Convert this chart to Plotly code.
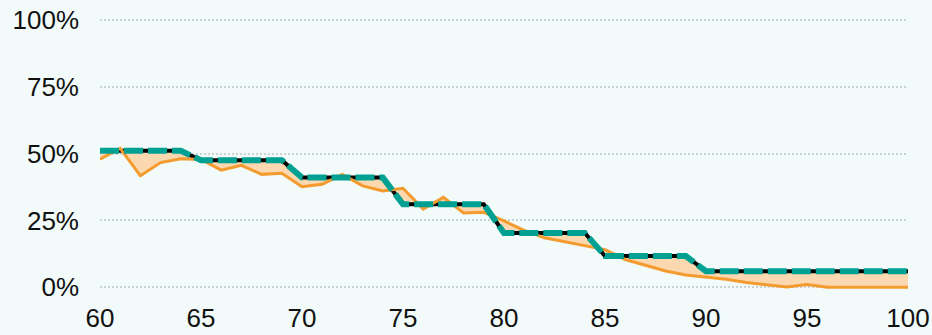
import plotly.graph_objects as go

# Age axis (60..100) and the two curves drawn against it
ages = list(range(60, 101))

step_share = [51] * 5 + [47.5] * 5 + [41] * 5 + [31] * 5 + [20.3] * 5 + [11.7] * 5 + [6] * 11

observed_share = [
    47.9, 51.9, 41.7, 46.6, 48.0,   # 60-64
    47.8, 43.8, 45.6, 42.2, 42.6,   # 65-69
    37.6, 38.5, 42.2, 37.9, 36.0,   # 70-74
    37.0, 29.2, 33.6, 27.8, 28.0,   # 75-79
    24.8, 21.3, 18.5, 17.0, 15.6,   # 80-84
    14.1, 10.4, 8.2, 6.1, 4.6,      # 85-89
    3.9, 3.0, 1.8, 0.9, 0.1,        # 90-94
    1.0, 0.0, 0.0, 0.0, 0.0, 0.0,   # 95-100
]

y_ticks = [0, 25, 50, 75, 100]
y_tick_text = ["0%", "25%", "50%", "75%", "100%"]
x_ticks = [60, 65, 70, 75, 80, 85, 90, 95, 100]

BG = "#f2fbf9"
ORANGE = "#f49b30"
PEACH = "#fcd8b0"
TEAL = "#00a092"

fig = go.Figure()

# solid black base of the step curve
fig.add_trace(go.Scatter(
    x=ages, y=step_share, mode="lines",
    line=dict(color="black", width=4),
    hoverinfo="skip", showlegend=False,
))

# observed curve, shaded against the step curve
fig.add_trace(go.Scatter(
    x=ages, y=observed_share, mode="lines",
    line=dict(color=ORANGE, width=3),
    fill="tonexty", fillcolor=PEACH,
    showlegend=False,
))

# teal dashes laid over the black step curve
fig.add_trace(go.Scatter(
    x=ages, y=step_share, mode="lines",
    line=dict(color=TEAL, width=6, dash="19px,5px"),
    showlegend=False,
))

fig.update_layout(
    width=932, height=335,
    margin=dict(l=100, r=24, t=9, b=37, autoexpand=False),
    paper_bgcolor=BG, plot_bgcolor=BG,
    font=dict(family="Liberation Sans, Arial, sans-serif", size=26, color="#111111"),
    xaxis=dict(
        range=[60, 100], tickvals=x_ticks, showgrid=False, automargin=False,
        zeroline=False, showline=False, ticks="", ticklabelstandoff=2,
    ),
    yaxis=dict(
        range=[-4, 104], tickvals=y_ticks, ticktext=y_tick_text, automargin=False,
        showgrid=True, gridcolor="#c9d3d2", gridwidth=2, griddash="2px,2px",
        zeroline=False, showline=False, ticks="", ticklabelstandoff=20,
    ),
)

fig.write_html("out.html")
